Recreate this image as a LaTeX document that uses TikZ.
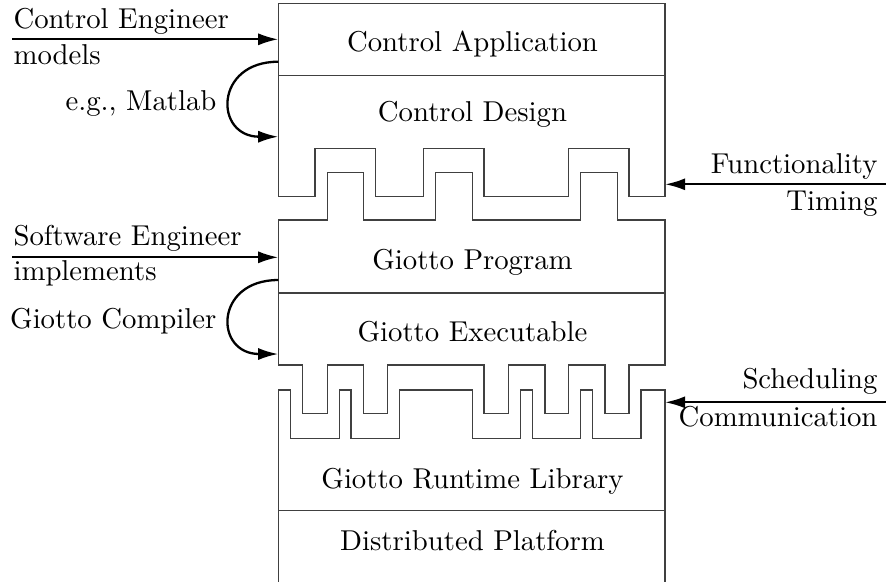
\documentclass[tikz,border=0pt]{standalone}
\usetikzlibrary{arrows.meta}
\begin{document}
\begin{tikzpicture}[x=0.348pt,y=-0.348pt,
  layer/.style={draw=black!75,line width=0.45pt,line join=miter},
  flow/.style={line width=0.8pt,-{Latex[length=7pt,width=4.2pt]}},
  lbl/.style={inner sep=0pt,font=\normalsize}]
\useasboundingbox (0,0) rectangle (886,581);
% --- layer outlines ---
\draw[layer] (278.3,196.7) -- (278.3,3.3) -- (665,3.3) -- (665,196.7) -- (629,196.7) -- (629,148.3) -- (568.3,148.3) -- (568.3,196.7) -- (484,196.7) -- (484,148.3) -- (423.7,148.3) -- (423.7,196.7) -- (375.7,196.7) -- (375.7,148.3) -- (315,148.3) -- (315,196.7) -- cycle;
\draw[layer] (278.3,75.5) -- (665,75.5);
\draw[layer] (278.3,365) -- (278.3,220) -- (327.3,220) -- (327.3,172.3) -- (363.3,172.3) -- (363.3,220) -- (435.7,220) -- (435.7,172.3) -- (472.3,172.3) -- (472.3,220) -- (580.7,220) -- (580.7,172.3) -- (617.3,172.3) -- (617.3,220) -- (665,220) -- (665,365) -- (629,365) -- (629,413.3) -- (605,413.3) -- (605,365) -- (568.3,365) -- (568.3,413.3) -- (545,413.3) -- (545,365) -- (508.3,365) -- (508.3,413.3) -- (484,413.3) -- (484,365) -- (387.3,365) -- (387.3,413.3) -- (363.3,413.3) -- (363.3,365) -- (327.3,365) -- (327.3,413.3) -- (302.7,413.3) -- (302.7,365) -- cycle;
\draw[layer] (278.3,293) -- (665,293);
\draw[layer] (278.3,585) -- (278.3,390) -- (290.7,390) -- (290.7,438.3) -- (339.3,438.3) -- (339.3,390) -- (351,390) -- (351,438.3) -- (399.3,438.3) -- (399.3,390) -- (472.3,390) -- (472.3,438.3) -- (520.7,438.3) -- (520.7,390) -- (532.7,390) -- (532.7,438.3) -- (580.7,438.3) -- (580.7,390) -- (592.7,390) -- (592.7,438.3) -- (641,438.3) -- (641,390) -- (665,390) -- (665,585);
\draw[layer] (278.3,510.7) -- (665,510.7);
% --- layer texts ---
\node[lbl,anchor=base] (app) at (472.5,51.7) {Control Application};
\node[lbl,anchor=base] (design) at (472.5,121.7) {Control Design};
\node[lbl,anchor=base] (prog) at (472.5,269.3) {Giotto Program};
\node[lbl,anchor=base] (exe) at (472.5,341.7) {Giotto Executable};
\node[lbl,anchor=base] (rt) at (472.5,488.3) {Giotto Runtime Library};
\node[lbl,anchor=base] (plat) at (472.5,550) {Distributed Platform};
% --- side labels ---
\node[lbl,anchor=base west] (ce) at (13,28) {Control Engineer};
\node[lbl,anchor=base west] (models) at (13,64) {models};
\node[lbl,anchor=base east] (matlab) at (217,110) {e.g., Matlab};
\node[lbl,anchor=base west] (se) at (13,245) {Software Engineer};
\node[lbl,anchor=base west] (impl) at (13,280) {implements};
\node[lbl,anchor=base east] (gc) at (217,328.3) {Giotto Compiler};
\node[lbl,anchor=base east] (func) at (878,173.3) {Functionality};
\node[lbl,anchor=base east] (timing) at (878,210) {Timing};
\node[lbl,anchor=base east] (sched) at (878,388.3) {Scheduling};
\node[lbl,anchor=base east] (comm) at (878,426) {Communication};
% --- connector ends ---
\coordinate (ceS) at (12,39.3);   \coordinate (ceE) at (278.3,39.3);
\coordinate (seS) at (12,257.3);  \coordinate (seE) at (278.3,257.3);
\coordinate (fuS) at (886,184.3); \coordinate (fuE) at (665,184.3);
\coordinate (scS) at (886,402.3); \coordinate (scE) at (665,402.3);
\coordinate (l1S) at (278.3,61.7); \coordinate (l1E) at (278.3,136.7);
\coordinate (l2S) at (278.3,280);  \coordinate (l2E) at (278.3,354);
% --- connectors ---
\draw[flow] (ceS) -- (ceE);
\draw[flow] (seS) -- (seE);
\draw[flow] (fuS) -- (fuE);
\draw[flow] (scS) -- (scE);
\draw[flow] (l1S) .. controls (214,61.7) and (214,136.7) .. (l1E);
\draw[flow] (l2S) .. controls (214,280) and (214,354) .. (l2E);
\end{tikzpicture}
\end{document}
